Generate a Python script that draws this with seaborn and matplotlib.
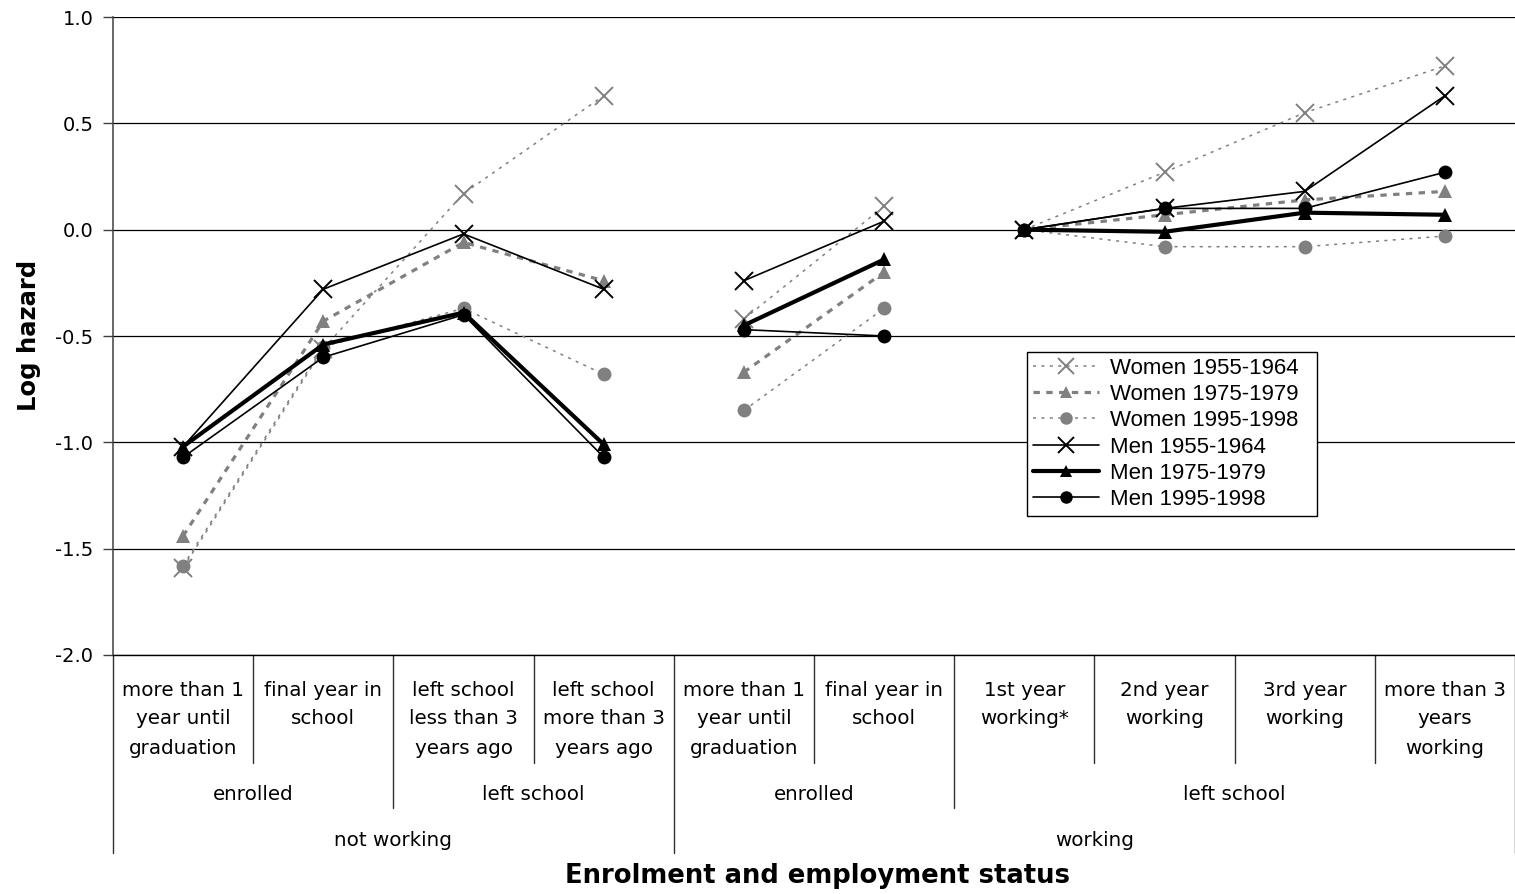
import numpy as np
import pandas as pd
import matplotlib
matplotlib.use("Agg")
import matplotlib.pyplot as plt
import matplotlib.transforms as mtransforms
from matplotlib.lines import Line2D
import seaborn as sns

# ---- data -------------------------------------------------------------
status = [
    "more than 1\nyear until\ngraduation",
    "final year in\nschool",
    "left school\nless than 3\nyears ago",
    "left school\nmore than 3\nyears ago",
    "more than 1\nyear until\ngraduation",
    "final year in\nschool",
    "1st year\nworking*",
    "2nd year\nworking",
    "3rd year\nworking",
    "more than 3\nyears\nworking",
]
schooling = ["enrolled", "left school", "enrolled", "left school"]
schooling_span = [(0, 1), (2, 3), (4, 5), (6, 9)]
employment = ["not working", "working"]
employment_span = [(0, 3), (4, 9)]
# lines are drawn as separate pieces within these blocks
segment = [0, 0, 0, 0, 1, 1, 2, 2, 2, 2]

series_names = ["Women 1955-1964", "Women 1975-1979", "Women 1995-1998",
                "Men 1955-1964", "Men 1975-1979", "Men 1995-1998"]
women_1955_1964 = [-1.59, -0.56, 0.17, 0.63, -0.42, 0.11, 0.00, 0.27, 0.55, 0.77]
women_1975_1979 = [-1.44, -0.43, -0.06, -0.24, -0.67, -0.20, 0.00, 0.07, 0.14, 0.18]
women_1995_1998 = [-1.58, -0.55, -0.37, -0.68, -0.85, -0.37, 0.00, -0.08, -0.08, -0.03]
men_1955_1964 = [-1.02, -0.28, -0.02, -0.28, -0.24, 0.04, 0.00, 0.10, 0.18, 0.63]
men_1975_1979 = [-1.02, -0.54, -0.39, -1.01, -0.45, -0.14, 0.00, -0.01, 0.08, 0.07]
men_1995_1998 = [-1.07, -0.60, -0.40, -1.07, -0.47, -0.50, 0.00, 0.10, 0.10, 0.27]
values = [women_1955_1964, women_1975_1979, women_1995_1998,
          men_1955_1964, men_1975_1979, men_1995_1998]

y_ticks = [-2.0, -1.5, -1.0, -0.5, 0.0, 0.5, 1.0]

# ---- styles -----------------------------------------------------------
GRAY = "#808080"
dot = (0, (2.0, 3.5))
styles = [
    dict(color=GRAY, lw=1.1, ls=dot, marker="x", ms=13, mew=1.4),
    dict(color=GRAY, lw=2.3, ls=(0, (2.0, 2.0)), marker="^", ms=10, mew=0),
    dict(color=GRAY, lw=1.1, ls=dot, marker="o", ms=10, mew=0),
    dict(color="black", lw=1.2, ls="-", marker="x", ms=13, mew=1.4),
    dict(color="black", lw=3.0, ls="-", marker="^", ms=10, mew=0),
    dict(color="black", lw=1.2, ls="-", marker="o", ms=10, mew=0),
]

sns.set_theme(style="white")
plt.rcParams["font.family"] = ["DejaVu Sans"]
plt.rcParams["text.color"] = "black"
plt.rcParams["ytick.color"] = "black"
plt.rcParams["ytick.labelcolor"] = "black"

fig = plt.figure(figsize=(15.15, 8.94), dpi=100)
ax = fig.add_axes([113 / 1515, 239 / 894, 1402 / 1515, 638 / 894])

for i, (name, vals) in enumerate(zip(series_names, values)):
    st = styles[i]
    df = pd.DataFrame({"pos": np.arange(len(status)), "value": vals,
                       "segment": segment})
    sns.lineplot(data=df, x="pos", y="value", units="segment",
                 estimator=None, ax=ax, color=st["color"], linewidth=st["lw"],
                 linestyle=st["ls"], marker=st["marker"],
                 markersize=st["ms"], markeredgewidth=st["mew"],
                 markeredgecolor=st["color"], markerfacecolor=st["color"],
                 zorder=3 + i, legend=False)

# ---- axes -------------------------------------------------------------
ax.set_xlim(-0.5, len(status) - 0.5)
ax.set_ylim(-2.0, 1.0)
ax.set_yticks(y_ticks)
ax.set_yticklabels([f"{t:.1f}" for t in y_ticks], fontsize=14, color="black")
ax.set_xticks([])
ax.set_xlabel("")
ax.set_ylabel("")
ax.tick_params(axis="y", direction="out", length=7.2, width=1,
               color="#404040", pad=7, left=True)
for y in y_ticks:
    ax.axhline(y, color="black", lw=0.9, zorder=1)
for side in ("top", "right"):
    ax.spines[side].set_visible(False)
ax.spines["left"].set_color("#404040")
ax.spines["left"].set_linewidth(1.1)
ax.spines["bottom"].set_color("black")
ax.spines["bottom"].set_linewidth(1.0)

# ---- multi-level category axis ---------------------------------------
trans = mtransforms.blended_transform_factory(ax.transData, ax.transAxes)
px = 1 / 638.0
line_pitch = 29 * px
first_line = -35 * px
for i, lab in enumerate(status):
    for j, part in enumerate(lab.split("\n")):
        ax.text(i, first_line - j * line_pitch, part, transform=trans,
                ha="center", va="center", fontsize=14.3, color="black")
for lab, (a, b) in zip(schooling, schooling_span):
    ax.text((a + b) / 2, -140 * px, lab, transform=trans, ha="center",
            va="center", fontsize=14.3, color="black")
for lab, (a, b) in zip(employment, employment_span):
    ax.text((a + b) / 2, -186 * px, lab, transform=trans, ha="center",
            va="center", fontsize=14.3, color="black")

level3_edges = {-0.5, 3.5, 9.5}
level2_edges = {1.5, 5.5}
for k in range(len(status) + 1):
    x = k - 0.5
    if x in level3_edges:
        depth = 198
    elif x in level2_edges:
        depth = 153
    else:
        depth = 108
    ax.plot([x, x], [0, -depth * px], transform=trans, color="#303030",
            lw=1.0, clip_on=False, zorder=2)

fig.text(818 / 1515, 18 / 894, "Enrolment and employment status",
         ha="center", va="center", fontsize=18.6, fontweight="bold",
         color="black")
fig.text(29 / 1515, 1 - 335 / 894, "Log hazard", rotation=90, ha="center",
         va="center", fontsize=17.5, fontweight="bold", color="black")

# ---- legend -----------------------------------------------------------
handles = [Line2D([], [], color=st["color"], lw=st["lw"], ls=st["ls"],
                  marker=st["marker"], ms=st["ms"] * 0.9, mew=st["mew"],
                  mec=st["color"], mfc=st["color"])
           for st in styles]
leg = ax.legend(handles, [n + "\u00a0\u00a0" for n in series_names],
                loc="upper left",
                bbox_to_anchor=(914 / 1402, 303 / 638), frameon=True,
                fancybox=False, edgecolor="black", framealpha=1,
                prop={"family": "Liberation Sans", "size": 16},
                handlelength=3.0, handletextpad=0.5, labelspacing=0.24,
                borderpad=0.25, borderaxespad=0)
for t in leg.get_texts():
    t.set_color("black")
leg.get_frame().set_linewidth(1.0)
leg.set_zorder(20)

fig.savefig("out.png", dpi=100)
